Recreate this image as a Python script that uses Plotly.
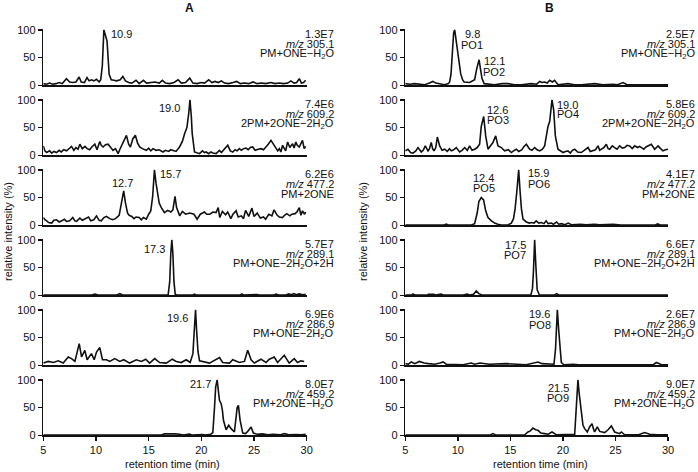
import plotly.graph_objects as go

W, H = 698, 472

# ---------------- data: (retention time [min], relative intensity [%]) ----------------
a1 = [(5.0,3),(5.3,2),(5.6,4),(5.9,2),(6.2,3),(6.5,5),(6.8,3),(7.2,12),(7.5,6),(7.8,5),(8.1,6),(8.4,15),(8.6,6),(8.9,5),
      (9.15,14),(9.35,8),(9.6,10),(9.8,8),(10.05,11),(10.3,6),(10.45,10),(10.6,35),(10.75,100),(10.9,88),(11.05,80),(11.25,20),
      (11.45,10),(11.7,9),(11.95,8),(12.3,10),(12.55,16),(12.8,8),(13.1,5),(13.4,4),(13.8,9),(14.1,3),(14.5,9),(14.8,4),(15.2,5),
      (15.6,6),(16.0,4),(16.3,9),(16.6,4),(17.0,3),(17.4,5),(17.8,10),(18.1,4),(18.5,5),(18.9,13),(19.2,4),(19.6,3),(20.0,5),
      (20.3,4),(20.7,10),(21.0,5),(21.3,7),(21.6,5),(21.9,8),(22.2,4),(22.6,3),(23.0,5),(23.35,7),(23.7,3),(24.1,4),(24.5,3),
      (24.9,6),(25.3,3),(25.7,4),(26.1,3),(26.6,5),(27.0,3),(27.4,4),(27.8,3),(28.2,4),(28.5,8),(28.8,4),(29.05,5),(29.3,12),
      (29.5,4),(29.7,5),(29.9,9)]
a2 = [(5.0,17),(5.15,8),(5.32,5),(5.6,8),(5.8,4),(6.0,7),(6.26,5),(6.5,9),(6.7,6),(6.95,10),(7.21,8),(7.45,13),(7.68,16),
      (7.9,9),(8.1,14),(8.3,11),(8.47,20),(8.7,12),(8.95,16),(9.16,12),(9.4,10),(9.6,15),(9.89,20),(10.1,10),(10.36,25),
      (10.5,18),(10.68,15),(10.9,19),(11.15,20),(11.4,14),(11.62,9),(11.85,12),(12.1,3),(12.25,10),(12.41,17),(12.65,28),
      (12.89,36),(13.1,20),(13.27,15),(13.5,30),(13.74,36),(13.95,22),(14.15,15),(14.4,12),(14.6,10),(14.78,9),(15.0,13),
      (15.2,8),(15.41,12),(15.7,9),(16.0,10),(16.36,6),(16.6,9),(16.9,7),(17.1,10),(17.3,9),(17.6,7),(17.93,15),(18.2,25),
      (18.41,39),(18.63,50),(18.8,75),(18.92,100),(19.05,70),(19.13,40),(19.35,6),(19.6,5),(19.83,3),(20.1,8),(20.3,5),
      (20.46,6),(20.7,3),(20.9,6),(21.1,4),(21.4,3),(21.72,9),(21.9,5),(22.2,12),(22.51,18),(22.75,8),(22.98,6),(23.2,10),
      (23.4,8),(23.61,12),(23.8,9),(24.0,12),(24.24,13),(24.45,10),(24.65,14),(24.87,15),(25.1,9),(25.4,11),(25.66,12),
      (25.9,10),(26.14,15),(26.35,20),(26.61,27),(26.85,20),(27.08,15),(27.25,8),(27.4,12),(27.55,6),(27.71,18),(27.9,11),
      (28.0,8),(28.19,24),(28.4,14),(28.66,21),(28.8,13),(28.97,24),(29.1,18),(29.29,15),(29.45,22),(29.6,27),(29.76,12),
      (29.9,16)]
a3 = [(5.0,14),(5.15,10),(5.32,8),(5.5,5),(5.8,4),(6.0,9),(6.26,10),(6.5,6),(6.75,8),(7.0,11),(7.2,7),(7.5,8),(7.8,14),
      (8.0,8),(8.15,7),(8.47,13),(8.7,9),(8.95,11),(9.3,15),(9.5,8),(9.8,10),(10.05,17),(10.3,9),(10.5,8),(10.75,14),
      (11.0,16),(11.3,12),(11.6,10),(11.85,12),(12.2,18),(12.45,40),(12.63,62),(12.8,40),(13.0,22),(13.15,18),(13.4,16),
      (13.6,12),(13.8,15),(14.1,14),(14.3,10),(14.5,14),(14.78,11),(15.0,20),(15.2,26),(15.38,52),(15.55,100),(15.7,76),
      (15.85,58),(16.0,40),(16.2,32),(16.5,23),(16.8,27),(17.1,24),(17.3,28),(17.5,52),(17.65,32),(17.95,17),(18.2,25),
      (18.5,20),(18.9,22),(19.3,20),(19.6,11),(19.9,20),(20.3,24),(20.5,20),(20.8,20),(21.1,24),(21.4,23),(21.6,32),
      (21.75,14),(22.0,25),(22.3,19),(22.5,24),(22.8,12),(23.0,20),(23.3,26),(23.5,15),(23.8,17),(24.0,12),(24.2,27),
      (24.5,16),(24.8,31),(25.0,16),(25.3,22),(25.6,13),(25.9,15),(26.1,11),(26.4,20),(26.7,17),(26.9,28),(27.2,18),
      (27.4,15),(27.7,14),(27.9,18),(28.1,21),(28.4,17),(28.6,20),(28.9,21),(29.1,25),(29.3,32),(29.45,18),(29.6,26),
      (29.8,20),(29.9,24)]
a4 = [(5.0,0.5),(9.6,0.5),(9.9,2),(10.2,0.5),(12.0,0.5),(12.25,3),(12.5,1),(12.8,0.5),(16.85,1),(17.0,25),(17.1,75),
      (17.2,100),(17.3,75),(17.4,25),(17.52,2),(17.65,0.5),(19.2,0.5),(19.35,2),(19.5,0.5),(23.7,0.5),(23.85,2.5),
      (24.0,0.5),(25.3,1.5),(25.5,0.5),(26.9,0.5),(27.1,2),(27.3,0.5),(28.0,0.5),(28.3,2.5),(28.5,1),(28.8,3),(29.0,1),
      (29.3,2.5),(29.6,1),(29.9,2)]
a5 = [(5.0,4),(5.47,7),(5.95,5),(6.42,8),(6.89,4),(7.37,15),(7.68,12),(8.0,7),(8.41,39),(8.63,15),(8.94,27),(9.16,10),
      (9.57,21),(9.83,10),(10.05,24),(10.36,32),(10.62,10),(11.0,10),(11.31,7),(11.78,12),(12.26,7),(12.63,10),(13.2,4),
      (13.83,10),(14.31,7),(14.72,11),(15.09,4),(15.57,12),(16.04,5),(16.67,4),(17.24,11),(17.62,7),(18.09,5),(18.56,10),
      (18.94,5),(19.2,21),(19.32,60),(19.45,100),(19.56,60),(19.68,25),(19.83,8),(20.46,5),(20.77,4),(21.72,14),(22.03,5),
      (22.67,4),(22.98,10),(23.61,5),(24.09,7),(24.4,27),(24.72,10),(25.03,4),(25.66,11),(26.14,5),(26.45,11),(26.92,15),
      (27.24,5),(27.87,18),(28.34,4),(28.82,12),(29.13,5),(29.45,8),(29.76,7)]
a6 = [(5.0,0.5),(16.2,0.5),(16.5,2.5),(17.0,3),(17.5,2.5),(17.93,2),(18.3,0.5),(18.88,2),(19.1,0.5),(20.14,1.5),
      (20.4,0.5),(20.9,2),(21.09,5),(21.25,50),(21.36,87),(21.5,100),(21.6,80),(21.72,63),(21.88,57),(22.0,45),(22.1,27),
      (22.35,10),(22.6,18),(22.82,12),(23.14,6),(23.3,30),(23.4,50),(23.52,54),(23.6,40),(23.68,27),(23.93,4),(24.2,3),
      (24.4,7),(24.72,15),(24.94,4),(25.3,2),(25.8,2.5),(26.3,1),(26.8,2),(27.5,1),(27.9,3),(28.3,1),(29.0,1.5),(29.5,1),
      (29.9,2)]

b1 = [(5.0,3),(5.4,2),(5.89,3),(6.4,2),(6.84,1),(7.3,4),(7.63,7),(7.9,4),(8.11,3),(8.74,1),(9.1,3),(9.22,6),(9.35,20),
      (9.47,60),(9.6,95),(9.7,100),(9.85,80),(9.95,65),(10.1,40),(10.27,21),(10.45,10),(10.6,6),(11.12,5),(11.6,10),
      (11.8,30),(11.95,44),(12.02,46),(12.15,30),(12.3,12),(12.5,3),(13.5,1),(14.2,3),(14.77,3),(15.4,1),(16.04,1),
      (16.99,3),(17.5,2),(17.79,7),(18.0,5),(18.26,6),(18.5,4),(18.74,9),(19.0,6),(19.21,9),(19.53,1),(20.48,3),(21.1,1),
      (21.75,1),(22.4,2),(23.02,3),(23.8,1),(24.77,2),(25.2,1),(25.72,5),(26.1,1),(27.15,1),(28.4,1),(29.68,1),(30.0,1)]
b2 = [(5.0,8),(5.25,11),(5.5,5),(5.73,4),(6.0,8),(6.21,14),(6.52,6),(6.7,9),(6.9,17),(7.16,8),(7.3,12),(7.47,23),
      (7.6,12),(7.73,8),(7.9,14),(8.05,33),(8.27,17),(8.5,9),(8.74,11),(9.0,7),(9.2,12),(9.38,8),(9.6,10),(9.85,14),
      (10.17,6),(10.4,9),(10.65,14),(10.9,9),(11.12,17),(11.35,9),(11.6,11),(11.85,14),(12.07,20),(12.23,52),(12.46,70),
      (12.65,35),(12.87,11),(13.1,16),(13.34,23),(13.6,35),(13.82,17),(14.14,14),(14.45,8),(14.8,10),(15.09,5),(15.3,8),
      (15.56,11),(15.8,7),(16.1,10),(16.3,16),(16.52,20),(16.83,11),(17.05,9),(17.31,14),(17.55,10),(17.79,8),(18.05,11),
      (18.26,17),(18.45,40),(18.58,52),(18.74,61),(18.85,80),(18.96,100),(19.12,82),(19.28,35),(19.53,11),(19.8,8),
      (20.01,5),(20.25,7),(20.48,8),(20.7,4),(20.9,9),(21.12,11),(21.4,6),(21.75,5),(22.0,9),(22.2,12),(22.39,14),
      (22.6,7),(22.86,8),(23.1,10),(23.34,17),(23.5,9),(23.66,11),(23.9,14),(24.13,20),(24.3,12),(24.45,11),(24.7,17),
      (24.92,14),(25.15,11),(25.4,17),(25.65,13),(25.88,14),(26.1,18),(26.35,17),(26.6,12),(26.83,17),(27.1,14),
      (27.3,16),(27.46,14),(27.7,11),(27.9,15),(28.1,17),(28.41,20),(28.73,11),(29.05,17),(29.3,12),(29.52,8),
      (29.75,10),(30.0,11)]
b3 = [(5.0,0.5),(8.7,0.5),(8.9,2),(9.1,0.5),(11.3,0.5),(11.6,3),(11.85,23),(12.0,43),(12.23,50),(12.45,46),(12.65,26),
      (12.87,14),(13.2,8),(13.5,4),(13.8,2),(14.14,0.5),(14.8,1),(15.09,4),(15.3,12),(15.45,30),(15.62,62),(15.79,100),
      (15.92,62),(16.05,30),(16.2,11),(16.52,6),(16.8,4),(17.0,5),(17.25,4),(17.46,8),(17.7,4),(17.95,5),(18.2,3),
      (18.4,8),(18.6,3),(18.9,4),(19.1,2),(19.4,6),(19.6,2),(19.85,3),(20.2,1),(20.5,4),(20.8,1),(21.3,2),(21.7,2),
      (22.2,1),(23.0,2),(23.5,1),(24.2,1),(24.8,2),(25.5,0.5),(28.8,0.5),(29.0,2.5),(29.3,0.5),(30.0,0.5)]
b4 = [(5.0,0.5),(5.6,0.5),(5.73,2.5),(5.9,0.5),(7.1,0.5),(7.2,2),(7.5,2),(7.7,2),(7.9,0.5),(8.4,2),(8.6,0.5),(10.5,0.5),
      (10.9,2),(11.1,0.5),(11.5,2),(11.75,8),(12.0,3),(12.3,0.5),(16.95,0.5),(17.1,12),(17.2,45),(17.31,100),(17.42,55),
      (17.55,10),(17.75,1),(19.2,0.5),(19.4,3),(19.6,0.5),(30.0,0.5)]
b5 = [(5.0,3),(5.3,2),(5.57,6),(5.9,3),(6.33,7),(6.8,4),(7.2,3),(7.8,2),(8.3,4),(8.6,6),(8.9,2),(10.5,1),(11.28,4),
      (11.6,2),(12.1,4),(12.5,3),(13.0,2),(14.6,3),(15.2,2),(16.5,1),(17.63,6),(18.0,3),(19.15,2),(19.3,30),(19.37,60),
      (19.47,100),(19.6,63),(19.72,25),(19.85,5),(20.1,1),(21.0,2),(21.5,1),(23.0,1),(26.0,1),(28.6,1),(28.89,5),(29.1,3),
      (29.4,1),(30.0,1)]
b6 = [(5.0,0.5),(13.1,0.5),(13.34,3),(13.6,0.5),(16.0,0.5),(16.36,1),(16.68,6),(16.9,8),(17.15,13),(17.4,10),(17.63,9),
      (17.9,4),(18.26,3),(18.6,2),(18.96,6),(19.2,3),(19.37,1),(21.12,2),(21.28,48),(21.43,100),(21.55,75),(21.66,54),
      (21.78,30),(21.91,18),(22.07,12),(22.32,6),(22.54,15),(22.77,21),(22.9,12),(23.02,6),(23.27,15),(23.5,7),
      (23.97,5),(24.3,10),(24.61,17),(24.75,12),(24.92,6),(25.4,3),(25.56,6),(25.88,1),(27.2,1),(27.78,5),(28.0,3),
      (28.26,2),(29.0,1),(30.0,1)]

col_titles = ["A", "B"]
series_A = [a1, a2, a3, a4, a5, a6]
series_B = [b1, b2, b3, b4, b5, b6]
scale_A = ["1.3E7", "7.4E6", "6.2E6", "5.7E7", "6.9E6", "8.0E7"]
scale_B = ["2.5E7", "5.8E6", "4.1E7", "6.6E7", "2.6E7", "9.0E7"]
mz_vals = ["305.1", "609.2", "477.2", "289.1", "286.9", "459.2"]
ions = ["PM+ONE−H<sub>2</sub>O", "2PM+2ONE−2H<sub>2</sub>O", "PM+2ONE",
        "PM+ONE−2H<sub>2</sub>O+2H", "PM+ONE−2H<sub>2</sub>O", "PM+2ONE−H<sub>2</sub>O"]
peaks_A = ["10.9", "19.0", "12.7", "15.7", "17.3", "19.6", "21.7"]
peaks_B_rt = ["9.8", "12.1", "12.6", "19.0", "12.4", "15.9", "17.5", "19.6", "21.5"]
peaks_B_id = ["PO1", "PO2", "PO3", "PO4", "PO5", "PO6", "PO7", "PO8", "PO9"]
x_ticks = [5, 10, 15, 20, 25, 30]
y_ticks = [0, 50, 100]
x_title = "retention time (min)"
y_title = "relative intensity (%)"

# ---------------- layout geometry (pixels) ----------------
COLS_PX = [(43.3, 306.7), (405.3, 668.0)]
ROW_TOP0, ROW_STEP, ROW_H = 29.3, 70.0, 56.0
INK = "#111111"
FONT = "Liberation Sans, Arial, Helvetica, sans-serif"

# label positions for peak labels: (row, x [min], y [%])
pos_A = [(0, 12.46, 93), (1, 17.0, 86), (2, 12.56, 75.5), (2, 17.1, 93), (3, 15.6, 83), (4, 17.77, 86), (5, 19.95, 92)]
pos_B = [(0, 11.38, 93, 72), (0, 13.47, 44, 24), (1, 13.82, 81, 63), (1, 20.48, 91, 75), (2, 12.46, 86, 67),
         (2, 17.69, 94, 75), (3, 15.47, 91, 73), (4, 17.79, 92, 72), (5, 19.56, 85, 68)]

fig = go.Figure()
layout = {}
annotations = []


def px2paper_x(px):
    return px / W


def px2paper_y(py):
    return 1 - py / H


n = 0
for c, series in enumerate([series_A, series_B]):
    x0, x1 = COLS_PX[c]
    for r, pts in enumerate(series):
        n += 1
        top = ROW_TOP0 + r * ROW_STEP
        bot = top + ROW_H
        xs = [p[0] for p in pts]
        ys = [p[1] for p in pts]
        sfx = "" if n == 1 else str(n)
        fig.add_trace(go.Scatter(x=xs, y=ys, mode="lines", xaxis="x" + sfx, yaxis="y" + sfx,
                                 line=dict(color=INK, width=1.6), hoverinfo="skip", showlegend=False))
        last = (r == len(series) - 1)
        layout["xaxis" + sfx] = dict(domain=[px2paper_x(x0), px2paper_x(x1)], range=[5, 30], anchor="y" + sfx,
                                     showline=True, linecolor=INK, linewidth=1.8, showgrid=False, zeroline=False,
                                     ticks="outside" if last else "", tickvals=x_ticks, ticklen=4, tickwidth=1.4,
                                     tickcolor=INK, showticklabels=last, automargin=False, fixedrange=True,
                                     tickfont=dict(size=11, color=INK, family=FONT))
        layout["yaxis" + sfx] = dict(domain=[px2paper_y(bot), px2paper_y(top)], range=[0, 101], anchor="x" + sfx,
                                     showline=True, linecolor=INK, linewidth=1.6, showgrid=False, zeroline=False,
                                     ticks="outside", tickvals=y_ticks, ticklen=4, tickwidth=1.4, tickcolor=INK,
                                     automargin=False, fixedrange=True, tickfont=dict(size=11, color=INK, family=FONT))
        # right-side info block
        rx = 336 if c == 0 else 697
        scale = scale_A[r] if c == 0 else scale_B[r]
        lines = [scale, "<i>m/z</i> " + mz_vals[r], ions[r]]
        for k, txt in enumerate(lines):
            annotations.append(dict(x=px2paper_x(rx), y=px2paper_y(top + 5 + 10 * k), xref="paper", yref="paper",
                                    text=txt, showarrow=False, xanchor="right", yanchor="middle",
                                    font=dict(size=11, color=INK, family=FONT)))

# peak labels
for txt, (r, x, y) in zip(peaks_A, pos_A):
    sfx = "" if r == 0 else str(r + 1)
    annotations.append(dict(x=x, y=y, xref="x" + sfx, yref="y" + sfx, text=txt, showarrow=False,
                            xanchor="center", yanchor="middle", font=dict(size=11, color=INK, family=FONT)))
for rt, pid, (r, x, y1, y2) in zip(peaks_B_rt, peaks_B_id, pos_B):
    sfx = str(r + 7)
    for txt, y in ((rt, y1), (pid, y2)):
        annotations.append(dict(x=x, y=y, xref="x" + sfx, yref="y" + sfx, text=txt, showarrow=False,
                                xanchor="center", yanchor="middle", font=dict(size=11, color=INK, family=FONT)))

# column titles, axis titles
for c, (cx, tx) in enumerate([(189, 172), (549, 540)]):
    annotations.append(dict(x=px2paper_x(cx), y=px2paper_y(8), xref="paper", yref="paper", text="<b>%s</b>" % col_titles[c],
                            showarrow=False, xanchor="center", yanchor="middle",
                            font=dict(size=12, color=INK, family=FONT)))
    annotations.append(dict(x=px2paper_x(tx), y=px2paper_y(464), xref="paper", yref="paper", text=x_title,
                            showarrow=False, xanchor="center", yanchor="middle",
                            font=dict(size=11, color=INK, family=FONT)))
for yx in (8, 363):
    annotations.append(dict(x=px2paper_x(yx), y=px2paper_y(232), xref="paper", yref="paper", text=y_title,
                            showarrow=False, textangle=-90, xanchor="center", yanchor="middle",
                            font=dict(size=11, color=INK, family=FONT)))

fig.update_layout(width=W, height=H, margin=dict(l=0, r=0, t=0, b=0), paper_bgcolor="white", plot_bgcolor="white",
                  showlegend=False, annotations=annotations, font=dict(family=FONT, size=11, color=INK), **layout)

fig.write_html("out.html", config={"displayModeBar": False, "staticPlot": True},
               post_script="document.body.style.margin='0';document.body.style.overflow='hidden';")
